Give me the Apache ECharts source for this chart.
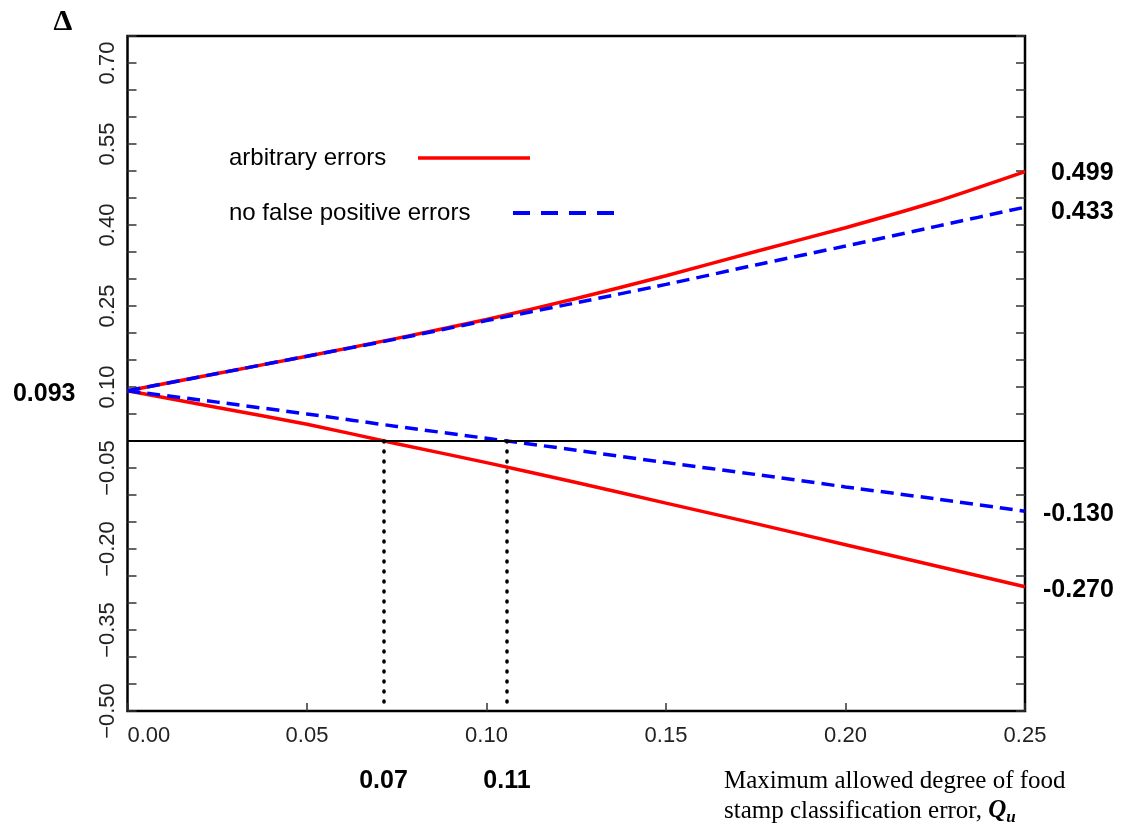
<!DOCTYPE html>
<html>
<head>
<meta charset="utf-8">
<script src="https://cdn.jsdelivr.net/npm/echarts@6/dist/echarts.min.js"></script>
<style>html,body{margin:0;padding:0;background:#fff}#main{width:1128px;height:831px}</style>
</head>
<body>
<div id="main"></div>
<script>
// Q_u grid
var qu = [0, 0.025, 0.05, 0.075, 0.10, 0.125, 0.15, 0.175, 0.20, 0.225, 0.25];
// arbitrary errors: upper / lower bound of delta
var arbUpper = [0.093, 0.125, 0.157, 0.190, 0.225, 0.264, 0.306, 0.351, 0.395, 0.443, 0.499];
var arbLower = [0.093, 0.062, 0.031, -0.005, -0.040, -0.077, -0.115, -0.153, -0.192, -0.231, -0.270];
// no false positive errors
var nfpUpper = [0.093, 0.125, 0.157, 0.189, 0.223, 0.256, 0.290, 0.326, 0.361, 0.397, 0.433];
var nfpLower = [0.093, 0.072, 0.050, 0.027, 0.005, -0.017, -0.040, -0.062, -0.085, -0.107, -0.130];
// where the lower bounds cross zero
var crossX = [0.0713, 0.1057];
var crossText = ['0.07', '0.11'];

var SANS = 'Liberation Sans, Arial, sans-serif';
var SERIF = 'Liberation Serif, Times New Roman, serif';
var RED = '#ff0000', BLUE = '#0000ff';

function pts(ys) {
    return qu.map(function (x, i) { return [x, ys[i]]; });
}
var boldLbl = { fontFamily: SANS, fontWeight: 'bold', fontSize: 25, color: '#000' };

var chart = echarts.init(document.getElementById('main'));

function endLbl(dist, dy) {
    return Object.assign({ show: true, distance: dist, offset: [0, dy],
        formatter: function (p) { return p.value[1].toFixed(3); } }, boldLbl);
}

function vLine(i) {
    return [{
        coord: [crossX[i], 0],
        lineStyle: { type: [1, 9], width: 3.5, color: '#000', cap: 'round' },
        label: Object.assign({ show: true, position: 'end', distance: 58, formatter: crossText[i] }, boldLbl)
    }, { coord: [crossX[i], -0.5] }];
}

var yTickFmt = function (v) {
    var n = Math.round(v * 100);
    if ((n + 50) % 15 !== 0) return '';
    return (n < 0 ? '\u2212' : '') + Math.abs(v).toFixed(2);
};

option = {
    animation: false,
    backgroundColor: '#fff',
    grid: {
        left: 127.5, right: 103, top: 36, bottom: 120,
        show: true, borderColor: '#000', borderWidth: 2.5
    },
    xAxis: {
        type: 'value',
        min: 0, max: 0.25, interval: 0.05,
        axisLine: { show: false, onZero: false },
        axisTick: { inside: true, length: 8, lineStyle: { color: '#333', width: 1.5 } },
        splitLine: { show: false },
        axisLabel: {
            margin: 14, fontFamily: SANS, fontSize: 22, color: '#222',
            alignMinLabel: 'left',
            formatter: function (v) { return v.toFixed(2); }
        }
    },
    yAxis: [{
        type: 'value',
        min: -0.5, max: 0.75, interval: 0.05,
        axisLine: { show: false },
        axisTick: { inside: true, length: 9, lineStyle: { color: '#333', width: 1.5 } },
        splitLine: { show: false },
        axisLabel: {
            rotate: 90, margin: 9, fontFamily: SANS, fontSize: 22, color: '#222',
            formatter: yTickFmt
        }
    }, {
        type: 'value', position: 'right',
        min: -0.5, max: 0.75, interval: 0.05,
        axisLine: { show: false },
        axisTick: { inside: true, length: 9, lineStyle: { color: '#333', width: 1.5 } },
        splitLine: { show: false },
        axisLabel: { show: false }
    }],
    series: [{
        name: 'arbitrary errors', type: 'line', smooth: 0.2, symbol: 'none',
        lineStyle: { color: RED, width: 3.5 },
        endLabel: endLbl(26, 2),
        data: pts(arbUpper),
        markPoint: {
            silent: true,
            data: [{
                coord: [qu[0], arbUpper[0]], symbolSize: 0,
                label: Object.assign({ show: true, position: 'left', distance: 52, offset: [0, 3],
                    formatter: arbUpper[0].toFixed(3) }, boldLbl)
            }]
        }
    }, {
        name: 'arbitrary errors', type: 'line', smooth: 0.2, symbol: 'none',
        lineStyle: { color: RED, width: 3.5 },
        endLabel: endLbl(18, 3),
        data: pts(arbLower)
    }, {
        name: 'no false positive errors', type: 'line', smooth: 0.2, symbol: 'none',
        lineStyle: { color: BLUE, width: 3.5, type: [13, 7] },
        endLabel: endLbl(26, 5),
        data: pts(nfpUpper)
    }, {
        name: 'no false positive errors', type: 'line', smooth: 0.2, symbol: 'none',
        lineStyle: { color: BLUE, width: 3.5, type: [13, 7] },
        endLabel: endLbl(18, 3),
        data: pts(nfpLower),
        markLine: {
            silent: true,
            symbol: ['none', 'none'],
            data: [
                { yAxis: 0, lineStyle: { type: 'solid', width: 2, color: '#000' }, label: { show: false } },
                vLine(0),
                vLine(1)
            ]
        }
    }],
    graphic: [
        // legend
        { type: 'text', style: { x: 229, y: 158, text: 'arbitrary errors', font: '24px ' + SANS, fill: '#000', verticalAlign: 'middle' } },
        { type: 'line', shape: { x1: 418, y1: 158, x2: 530, y2: 158 }, style: { stroke: RED, lineWidth: 3.5 } },
        { type: 'text', style: { x: 229, y: 213, text: 'no false positive errors', font: '24px ' + SANS, fill: '#000', verticalAlign: 'middle' } },
        { type: 'line', shape: { x1: 513, y1: 213, x2: 614, y2: 213 }, style: { stroke: BLUE, lineWidth: 4, lineDash: [17, 11] } },
        // axis titles
        { type: 'text', style: { x: 63, y: 22, text: '\u0394', font: 'bold 30px ' + SERIF, fill: '#000', align: 'center', verticalAlign: 'middle' } },
        {
            type: 'text',
            style: {
                x: 724, y: 766,
                text: 'Maximum allowed degree of food\nstamp classification error, {q|Q}{u|u}',
                font: '25px ' + SERIF, fill: '#000', lineHeight: 30,
                rich: {
                    q: { fontFamily: SERIF, fontSize: 25, fontWeight: 'bold', fontStyle: 'italic', lineHeight: 30 },
                    u: { fontFamily: SERIF, fontSize: 17, fontWeight: 'bold', fontStyle: 'italic', lineHeight: 30, verticalAlign: 'bottom', padding: [10, 0, 0, 0] }
                }
            }
        }
    ]
};
chart.setOption(option);
</script>
</body>
</html>
